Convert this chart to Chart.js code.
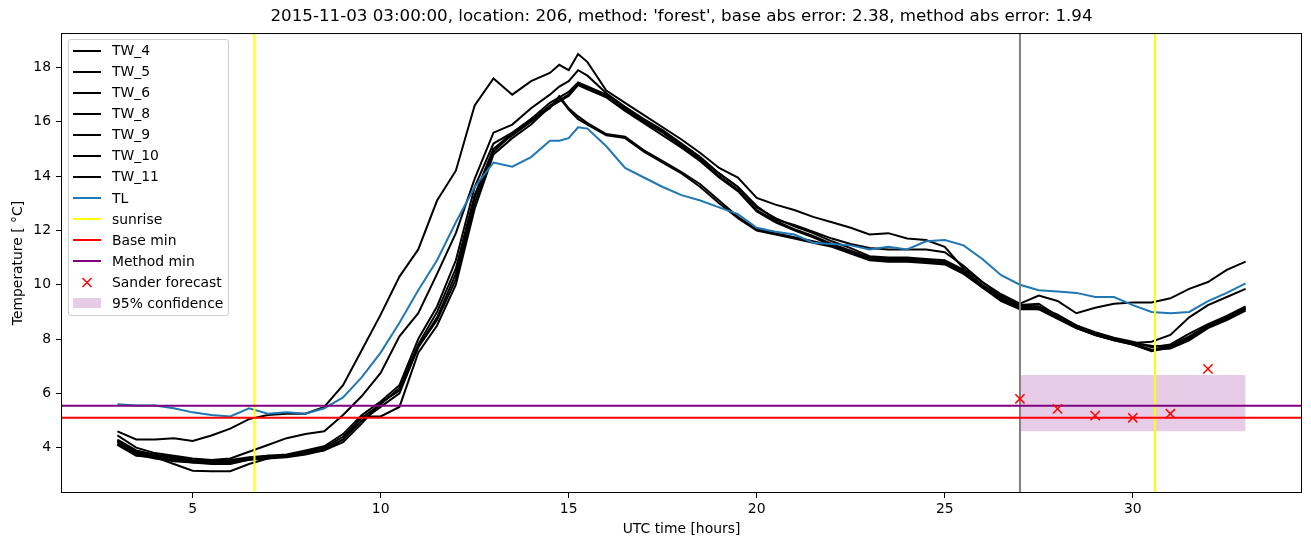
<!DOCTYPE html>
<html>
<head>
<meta charset="utf-8">
<script src="https://cdn.jsdelivr.net/npm/chart.js@4.4.1/dist/chart.umd.min.js"></script>
<style>
  html, body { margin: 0; padding: 0; background: #fff; }
  #wrap { position: relative; width: 1311px; height: 547px; font-family: "DejaVu Sans", sans-serif; }
  #legend { position: absolute; left: 68px; top: 39px; width: 159px; height: 275px;
            border: 1px solid #d0d0d0; border-radius: 3px; background: rgba(255,255,255,0.8); }
  .row { position: absolute; left: 0; width: 159px; height: 21px; font-size: 13.9px; line-height: 21px; color: #000; }
  .sw { position: absolute; left: 4px; width: 28px; }
  .lb { position: absolute; left: 43px; white-space: nowrap; }
</style>
</head>
<body>
<div id="wrap">
  <canvas id="chart" width="1311" height="547"></canvas>
  <div id="legend"></div>
</div>
<script>
// sampling times (UTC hours) shared by all measured series
const hours = [3, 3.5, 4, 4.5, 5, 5.5, 6, 6.5, 7, 7.5, 8, 8.5, 9, 9.5, 10, 10.5, 11, 11.5, 12, 12.5,
  13, 13.5, 14, 14.5, 14.75, 15, 15.25, 15.5, 16, 16.5, 17, 17.5, 18, 18.5, 19, 19.5, 20, 20.5, 21, 21.5,
  22, 22.5, 23, 23.5, 24, 24.5, 25, 25.5, 26, 26.5, 27, 27.5, 28, 28.5, 29, 29.5, 30, 30.5, 31, 31.5,
  32, 32.5, 33];

const tw4 = [4.6, 4.3, 4.3, 4.35, 4.25, 4.45, 4.7, 5.05, 5.2, 5.25, 5.25, 5.5, 6.3, 7.6, 8.9, 10.3, 11.3, 13.1, 14.2, 16.6,
  17.6, 17.0, 17.5, 17.8, 18.1, 17.9, 18.5, 18.2, 17.15, 16.7, 16.25, 15.8, 15.35, 14.85, 14.3, 13.95, 13.2, 12.95, 12.75, 12.5,
  12.3, 12.1, 11.85, 11.9, 11.7, 11.65, 11.4, 10.6, 10.1, 9.65, 9.3, 9.6, 9.4, 8.95, 9.15, 9.3, 9.35, 9.35, 9.5, 9.85,
  10.1, 10.55, 10.85];
const tw5 = [4.45, 4.0, 3.8, 3.7, 3.6, 3.55, 3.6, 3.85, 4.1, 4.35, 4.5, 4.6, 5.2, 5.9, 6.75, 8.1, 8.95, 10.4, 11.9, 13.9,
  15.6, 15.9, 16.5, 17.0, 17.3, 17.5, 17.9, 17.7, 17.05, 16.55, 16.1, 15.7, 15.2, 14.7, 14.1, 13.6, 12.9, 12.4, 12.2, 11.95,
  11.7, 11.5, 11.35, 11.3, 11.3, 11.3, 11.2, 10.7, 10.1, 9.6, 9.25, 9.2, 8.9, 8.5, 8.2, 8.0, 7.85, 7.9, 8.15, 8.8,
  9.25, 9.55, 9.85];
const tw6 = [4.3, 3.9, 3.75, 3.65, 3.55, 3.5, 3.55, 3.65, 3.7, 3.75, 3.9, 4.05, 4.5, 5.2, 5.7, 6.3, 8.0, 9.2, 10.9, 13.6,
  15.2, 15.6, 16.1, 16.7, 16.9, 17.1, 17.45, 17.3, 17.0, 16.5, 16.05, 15.65, 15.15, 14.65, 14.1, 13.6, 12.85, 12.45, 12.15, 11.9,
  11.6, 11.35, 11.05, 11.0, 11.0, 10.95, 10.9, 10.55, 10.0, 9.55, 9.25, 9.3, 8.85, 8.5, 8.25, 8.05, 7.9, 7.7, 7.8, 8.2,
  8.55, 8.85, 9.2];
const tw8 = [4.25, 3.85, 3.7, 3.6, 3.5, 3.5, 3.5, 3.6, 3.7, 3.7, 3.85, 4.0, 4.4, 5.1, 5.6, 6.2, 7.8, 9.0, 10.6, 13.3,
  15.0, 15.5, 16.0, 16.6, 16.8, 17.0, 17.4, 17.25, 16.95, 16.45, 16.0, 15.6, 15.1, 14.6, 14.0, 13.5, 12.75, 12.35, 12.05, 11.8,
  11.5, 11.25, 11.0, 10.95, 10.95, 10.9, 10.85, 10.5, 9.95, 9.5, 9.2, 9.2, 8.8, 8.45, 8.2, 8.0, 7.85, 7.6, 7.75, 8.1,
  8.5, 8.8, 9.15];
const tw9 = [4.2, 3.8, 3.65, 3.55, 3.45, 3.45, 3.45, 3.55, 3.65, 3.7, 3.8, 3.95, 4.3, 5.15, 5.15, 5.5, 7.5, 8.5, 10.0, 12.8,
  14.8, 15.4, 15.9, 16.55, 16.75, 16.95, 17.35, 17.2, 16.9, 16.4, 15.95, 15.5, 15.05, 14.55, 13.95, 13.45, 12.7, 12.3, 12.0, 11.75,
  11.45, 11.2, 10.95, 10.9, 10.9, 10.85, 10.8, 10.45, 9.9, 9.45, 9.15, 9.1, 8.75, 8.4, 8.15, 7.95, 7.8, 7.55, 7.7, 8.05,
  8.45, 8.75, 9.1];
const tw10 = [4.15, 3.75, 3.6, 3.5, 3.45, 3.4, 3.4, 3.55, 3.6, 3.65, 3.75, 3.9, 4.2, 4.9, 5.65, 6.1, 7.7, 8.7, 10.2, 13.0,
  14.9, 15.55, 16.05, 16.5, 16.95, 16.5, 16.2, 15.95, 15.55, 15.45, 14.95, 14.55, 14.15, 13.7, 13.1, 12.5, 12.05, 11.9, 11.75, 11.6,
  11.45, 11.2, 10.95, 10.9, 10.9, 10.85, 10.8, 10.45, 9.95, 9.45, 9.15, 9.15, 8.8, 8.45, 8.2, 8.0, 7.85, 7.75, 7.7, 8.0,
  8.45, 8.75, 9.1];
const tw11 = [4.1, 3.7, 3.65, 3.4, 3.15, 3.13, 3.13, 3.4, 3.6, 3.7, 3.8, 3.9, 4.3, 5.0, 5.5, 6.0, 7.7, 8.8, 10.4, 13.2,
  15.0, 15.6, 16.1, 16.55, 16.9, 16.45, 16.1, 15.9, 15.5, 15.4, 14.9, 14.5, 14.1, 13.6, 13.0, 12.45, 12.0, 11.85, 11.7, 11.55,
  11.4, 11.15, 10.9, 10.85, 10.85, 10.8, 10.75, 10.4, 9.9, 9.4, 9.1, 9.1, 8.75, 8.4, 8.15, 7.95, 7.8, 7.6, 7.65, 7.95,
  8.4, 8.7, 9.05];
const tl = [5.6, 5.55, 5.55, 5.45, 5.3, 5.2, 5.15, 5.45, 5.25, 5.3, 5.25, 5.45, 5.85, 6.6, 7.5, 8.6, 9.8, 10.9, 12.3, 13.6,
  14.5, 14.35, 14.7, 15.3, 15.3, 15.4, 15.8, 15.75, 15.1, 14.3, 13.95, 13.6, 13.3, 13.1, 12.85, 12.6, 12.1, 11.95, 11.85, 11.55,
  11.5, 11.45, 11.3, 11.4, 11.3, 11.6, 11.65, 11.45, 10.95, 10.35, 10.0, 9.8, 9.75, 9.7, 9.55, 9.55, 9.25, 9.0, 8.95, 9.0,
  9.4, 9.7, 10.05];

const twNames = ['TW_4', 'TW_5', 'TW_6', 'TW_8', 'TW_9', 'TW_10', 'TW_11'];
const twSeries = [tw4, tw5, tw6, tw8, tw9, tw10, tw11];

const sunriseHours = [6.645, 30.59];
const nowHour = 27.0;
const baseMin = 5.1;
const methodMin = 5.54;
const forecastHours = [27, 28, 29, 30, 31, 32];
const forecastTemps = [5.8, 5.43, 5.18, 5.1, 5.25, 6.9];
const confHours = [27, 33];
const confLow = 4.6;
const confHigh = 6.68;

const xRange = [1.5, 34.5];
const yRange = [2.33, 19.27];
const xTicks = [5, 10, 15, 20, 25, 30];
const yTicks = [4, 6, 8, 10, 12, 14, 16, 18];

const font = 'DejaVu Sans';
const toPts = (xs, ys) => xs.map((x, i) => ({ x, y: ys[i] }));

const datasets = [];
datasets.push({
  data: confHours.map(x => ({ x, y: confHigh })),
  borderWidth: 0, pointRadius: 0,
  backgroundColor: 'rgba(128,0,128,0.2)',
  fill: { value: confLow }
});
twSeries.forEach(s => {
  datasets.push({ data: toPts(hours, s), borderColor: '#000', borderWidth: 2, pointRadius: 0 });
});
datasets.push({ data: toPts(hours, tl), borderColor: '#1f77b4', borderWidth: 2, pointRadius: 0 });
sunriseHours.forEach(h => {
  datasets.push({ data: yRange.map(y => ({ x: h, y })), borderColor: '#ffff00', borderWidth: 2, pointRadius: 0 });
});
datasets.push({ data: yRange.map(y => ({ x: nowHour, y })), borderColor: '#808080', borderWidth: 2, pointRadius: 0 });
datasets.push({ data: xRange.map(x => ({ x, y: baseMin })), borderColor: '#ff0000', borderWidth: 2, pointRadius: 0 });
datasets.push({ data: xRange.map(x => ({ x, y: methodMin })), borderColor: '#800080', borderWidth: 2, pointRadius: 0 });
datasets.push({
  data: toPts(forecastHours, forecastTemps), showLine: false,
  pointStyle: 'crossRot', pointRadius: 6.5, borderColor: '#ff0000', borderWidth: 1.5
});
// later datasets on top, like matplotlib
datasets.forEach((d, i) => { d.order = datasets.length - i; d.tension = 0; });

const frame = {
  id: 'frame',
  afterDraw(chart) {
    const { ctx, chartArea: a } = chart;
    ctx.save();
    ctx.strokeStyle = '#000';
    ctx.lineWidth = 1;
    ctx.strokeRect(a.left + 0.5, a.top + 0.5, a.right - a.left - 1, a.bottom - a.top - 1);
    ctx.restore();
  }
};

new Chart(document.getElementById('chart'), {
  type: 'line',
  data: { datasets },
  options: {
    responsive: false,
    devicePixelRatio: 1,
    animation: false,
    layout: { padding: { left: 0, right: 9, top: 0, bottom: 0 } },
    plugins: {
      legend: { display: false },
      tooltip: { enabled: false },
      title: {
        display: true,
        fullSize: false,
        text: "2015-11-03 03:00:00, location: 206, method: 'forest', base abs error: 2.38, method abs error: 1.94",
        color: '#000',
        font: { family: font, size: 16.7, weight: 'normal' },
        padding: { top: 7, bottom: 6 }
      }
    },
    scales: {
      x: {
        type: 'linear', min: xRange[0], max: xRange[1],
        afterBuildTicks: s => { s.ticks = xTicks.map(v => ({ value: v })); },
        afterFit: s => { s.height = 54; },
        grid: { drawOnChartArea: false, color: '#000', tickLength: 5 },
        border: { display: false },
        ticks: { color: '#000', font: { family: font, size: 13.9 }, padding: 3, maxRotation: 0 },
        title: { display: true, text: 'UTC time [hours]', color: '#000',
                 font: { family: font, size: 13.9 }, padding: { top: 0, bottom: 9 } }
      },
      y: {
        type: 'linear', min: yRange[0], max: yRange[1],
        afterBuildTicks: s => { s.ticks = yTicks.map(v => ({ value: v })); },
        afterFit: s => { s.width = 61; },
        grid: { drawOnChartArea: false, color: '#000', tickLength: 5 },
        border: { display: false },
        ticks: { color: '#000', font: { family: font, size: 13.9 }, padding: 5 },
        title: { display: true, text: 'Temperature [ °C]', color: '#000',
                 font: { family: font, size: 13.9 }, padding: { top: 10, bottom: 0 } }
      }
    }
  },
  plugins: [frame]
});

// legend drawn as HTML inside the axes, upper left
const legendItems = twNames.map(n => ({ label: n, kind: 'line', color: '#000' })).concat([
  { label: 'TL', kind: 'line', color: '#1f77b4' },
  { label: 'sunrise', kind: 'line', color: '#ffff00' },
  { label: 'Base min', kind: 'line', color: '#ff0000' },
  { label: 'Method min', kind: 'line', color: '#800080' },
  { label: 'Sander forecast', kind: 'cross', color: '#ff0000' },
  { label: '95% confidence', kind: 'patch', color: 'rgba(128,0,128,0.2)' }
]);
const legend = document.getElementById('legend');
legendItems.forEach((it, i) => {
  const row = document.createElement('div');
  row.className = 'row';
  row.style.top = (0 + i * 21.08) + 'px';
  let sw;
  if (it.kind === 'line') {
    sw = `<div class="sw" style="top:9.5px;height:2px;background:${it.color}"></div>`;
  } else if (it.kind === 'cross') {
    sw = `<svg class="sw" style="top:5px" width="28" height="11"><path d="M9.5 1 L18.5 10 M18.5 1 L9.5 10" stroke="${it.color}" stroke-width="1.5"/></svg>`;
  } else {
    sw = `<div class="sw" style="top:5.5px;height:10px;background:${it.color}"></div>`;
  }
  row.innerHTML = sw + `<span class="lb">${it.label}</span>`;
  legend.appendChild(row);
});
</script>
</body>
</html>
